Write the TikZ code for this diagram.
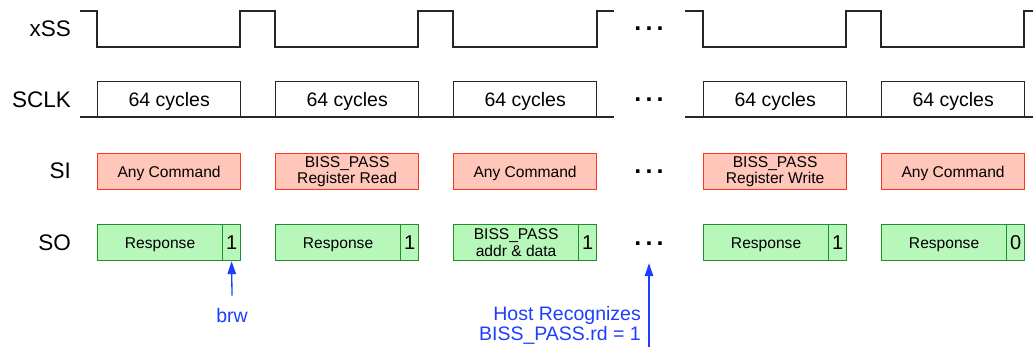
\documentclass[tikz,border=0pt]{standalone}
\usepackage{fontspec}
\setmainfont{Liberation Sans}
\usetikzlibrary{arrows.meta}

\definecolor{cmdfill}{HTML}{FFC6B9}
\definecolor{cmdline}{HTML}{FF3320}
\definecolor{respfill}{HTML}{B8F7BA}
\definecolor{respline}{HTML}{22902A}
\definecolor{hostblue}{HTML}{1D3DFF}

\tikzset{
  signame/.style={anchor=base east, inner sep=0pt, font=\fontsize{22.5}{24}\selectfont},
  wave/.style={line width=1.4pt, black!85, line join=miter},
  clkbox/.style={draw=black!85, line width=1.4pt, minimum width=143pt, minimum height=36pt,
    anchor=north west, text height=18pt, text depth=4.1pt, font=\fontsize{19.5}{21}\selectfont},
  cmdbox/.style={draw=cmdline, fill=cmdfill, line width=1.2pt, minimum width=143pt,
    minimum height=36pt, inner ysep=0pt, anchor=north west, align=center,
    font=\fontsize{15.6}{16.5}\selectfont},
  respbox/.style={draw=respline, fill=respfill, line width=1.2pt, minimum width=125pt,
    minimum height=36pt, inner ysep=0pt, anchor=north west, align=center,
    font=\fontsize{15.6}{17}\selectfont},
  oneline/.style={text height=15pt, text depth=3.3pt, align=none},
  bitbox/.style={draw=respline, fill=respfill, line width=1.2pt, minimum width=18pt,
    minimum height=36pt, inner sep=0pt, anchor=north west, font=\fontsize{20}{21}\selectfont},
  gap/.style={anchor=base, inner sep=0pt, font=\fontsize{25}{25}\bfseries\selectfont},
  pointer/.style={hostblue, line width=1.3pt, -{Triangle[width=8.5pt,length=13pt]}},
  note/.style={hostblue, inner sep=0pt, font=\fontsize{19.5}{20.5}\selectfont}
}

\begin{document}
\begin{tikzpicture}[x=1pt, y=-1pt]
  \useasboundingbox (0,0) rectangle (1033,347);

  % signal names
  \node[signame] (nxss) at (71,36.5) {xSS};
  \node[signame] (nsclk) at (71,108) {SCLK};
  \node[signame] (nsi) at (71,179) {SI};
  \node[signame] (nso) at (71,250.5) {SO};

  % xSS
  \draw[wave] (80,11) -- (97,11) -- (97,47) -- (240,47) -- (240,11) -- (275,11) -- (275,47)
    -- (418,47) -- (418,11) -- (453,11) -- (453,47) -- (597,47) -- (597,11) -- (614,11);
  \draw[wave] (685,11) -- (703,11) -- (703,47) -- (846,47) -- (846,11) -- (881,11) -- (881,47)
    -- (1024,47) -- (1024,11) -- (1033,11);

  % SCLK
  \draw[wave] (80,117) -- (614,117);
  \draw[wave] (685,117) -- (1033,117);
  \foreach \i/\x in {1/97, 2/275, 3/453, 4/703, 5/881}
    \node[clkbox] (clk\i) at (\x,81) {64 cycles};

  % SI
  \node[cmdbox, oneline] (si1) at (97,153) {Any Command};
  \node[cmdbox] (si2) at (275,153) {BISS\_PASS\\Register Read};
  \node[cmdbox, oneline] (si3) at (453,153) {Any Command};
  \node[cmdbox] (si4) at (703,153) {BISS\_PASS\\Register Write};
  \node[cmdbox, oneline] (si5) at (881,153) {Any Command};

  % SO
  \node[respbox, oneline] (so1) at (97,224) {Response};
  \node[bitbox] (so1b) at (222,224) {1};
  \node[respbox, oneline] (so2) at (275,224) {Response};
  \node[bitbox] (so2b) at (400,224) {1};
  \node[respbox] (so3) at (453,224) {BISS\_PASS\\addr \& data};
  \node[bitbox] (so3b) at (578,224) {1};
  \node[respbox, oneline] (so4) at (703,224) {Response};
  \node[bitbox] (so4b) at (828,224) {1};
  \node[respbox, oneline] (so5) at (881,224) {Response};
  \node[bitbox] (so5b) at (1006,224) {0};

  % skipped frames
  \node[gap] (gapxss) at (649,31) {.\,.\,.};
  \node[gap] (gapclk) at (649,102) {.\,.\,.};
  \node[gap] (gapsi) at (649,173.5) {.\,.\,.};
  \node[gap] (gapso) at (649,245.5) {.\,.\,.};

  % annotations
  \node[note, anchor=base, inner sep=2pt] (brw) at (232,322) {brw};
  \draw[pointer] ([yshift=10pt]brw.north) -- (so1b.south);

  \node[note, anchor=north east, align=right] (host) at (641,306) {Host Recognizes\\BISS\_PASS.rd = 1};
  \coordinate (hostfoot) at (649,347);
  \draw[pointer] (hostfoot) -- ([yshift=-2pt]gapso |- so1.south);
\end{tikzpicture}
\end{document}
